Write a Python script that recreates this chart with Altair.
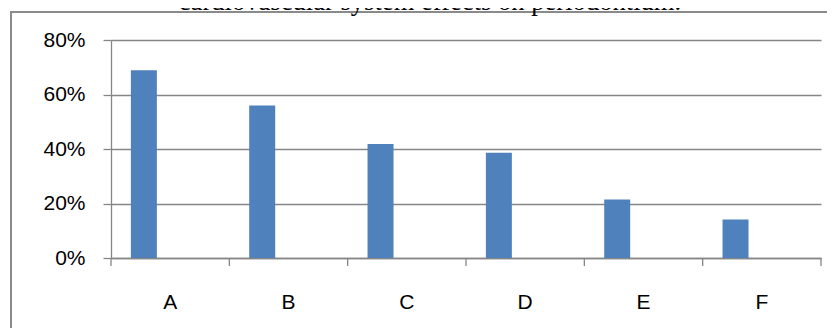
import altair as alt
import pandas as pd

categories = ["A", "B", "C", "D", "E", "F"]
values = [0.689, 0.560, 0.418, 0.386, 0.215, 0.141]
y_ticks = [0, 0.2, 0.4, 0.6, 0.8]
title_text = "cardiovascular system effects on periodontium."

df = pd.DataFrame({"cat": categories, "val": values})
one = pd.DataFrame({"k": [0]})

W, H = 710, 218
GRAY = "#868686"
FONT = "Liberation Sans"

x_scale = alt.Scale(domain=categories, paddingInner=0, paddingOuter=0)
y_scale = alt.Scale(domain=[0, 0.8], nice=False)

bars = alt.Chart(df).mark_bar(color="#4F81BD", width=26, xOffset=-26.3).encode(
    x=alt.X("cat:N", scale=x_scale, sort=categories,
            axis=alt.Axis(title=None, labelAngle=0, ticks=False, domain=True,
                          domainColor=GRAY, domainWidth=1.3, labelPadding=33,
                          labelBaseline="top", labelFontSize=21, labelFont=FONT,
                          labelColor="black", grid=False)),
    y=alt.Y("val:Q", scale=y_scale,
            axis=alt.Axis(title=None, values=y_ticks, format=".0%", grid=True,
                          gridColor=GRAY, gridWidth=1.3, domainColor=GRAY,
                          domainWidth=1.3, tickColor=GRAY, tickWidth=1.3,
                          tickSize=8, labelPadding=18, labelFontSize=21,
                          labelFont=FONT, labelColor="black")),
)

xticks = alt.Chart(df).mark_rule(color=GRAY, strokeWidth=1.3).encode(
    x=alt.X("cat:N", bandPosition=0, scale=x_scale, sort=categories),
    y=alt.value(H), y2=alt.value(H + 8),
)

end_tick = alt.Chart(one).mark_rule(color=GRAY, strokeWidth=1.3).encode(
    x=alt.value(W), y=alt.value(H), y2=alt.value(H + 8),
)

border_left = alt.Chart(one).mark_rule(color="#8a8a8a", strokeWidth=2).encode(
    x=alt.value(-100), y=alt.value(-28), y2=alt.value(300),
)
border_top = alt.Chart(one).mark_rule(color="#8a8a8a", strokeWidth=2).encode(
    x=alt.value(-101), x2=alt.value(720), y=alt.value(-28),
)

title = alt.Chart(one).mark_text(font="Liberation Serif", fontSize=26.6,
                                 baseline="alphabetic", align="center",
                                 color="black").encode(
    x=alt.value(319), y=alt.value(-30.5), text=alt.value(title_text),
)

chart = alt.layer(bars, xticks, end_tick, border_left, border_top, title).properties(
    width=W, height=H,
    autosize=alt.AutoSizeParams(type="none"),
    padding={"left": 103, "top": 32, "right": 6, "bottom": 70},
).configure_view(stroke=None)

chart.save("out.html", embed_options={"renderer": "svg", "actions": False})
